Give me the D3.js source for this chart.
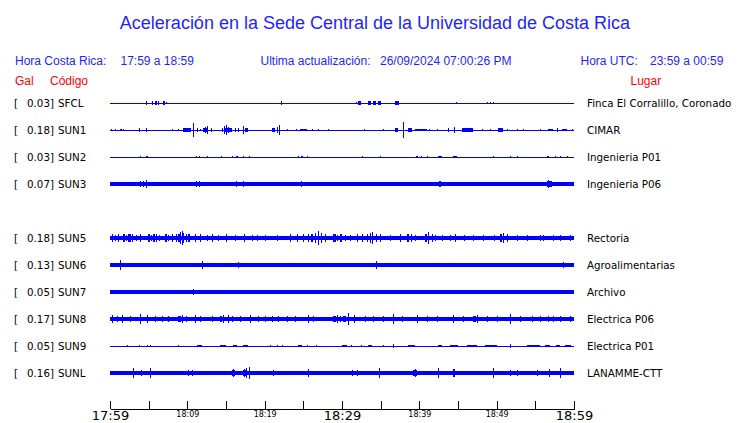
<!DOCTYPE html>
<html>
<head>
<meta charset="utf-8">
<script src="https://cdn.jsdelivr.net/npm/d3@7"></script>
<style>
  body { margin: 0; background: #fff; }
  svg { display: block; }
</style>
</head>
<body>
<div id="chart"></div>
<script>
var svgWidth = 740;
var svgHeight = 423;

// stations, top to bottom (SUN4 slot is empty)
var slots = ["SFCL", "SUN1", "SUN2", "SUN3", "SUN4", "SUN5", "SUN6", "SUN7", "SUN8", "SUN9", "SUNL"];
var codes = ["SFCL", "SUN1", "SUN2", "SUN3", "SUN5", "SUN6", "SUN7", "SUN8", "SUN9", "SUNL"];
var gal = ["0.03", "0.18", "0.03", "0.07", "0.18", "0.13", "0.05", "0.17", "0.05", "0.16"];
var places = ["Finca El Corralillo, Coronado", "CIMAR", "Ingenieria P01", "Ingenieria P06",
  "Rectoria", "Agroalimentarias", "Archivo", "Electrica P06", "Electrica P01", "LANAMME-CTT"];

// background noise level of each trace (relative amplitude)
var noise = [0, 0, 0, 0.15, 0.19, 0.15, 0.14, 0.17, 0, 0.17];

// bursts: [minute after 17:59, relative amplitude, duration in minutes]
var sfcl = [[4.7, 0.15], [5.4, 0.15], [5.8, 0.15, 0.3], [6.2, 0.15], [6.8, 0.15, 0.3], [7.3, 0.12],
  [22.1, 0.15], [31.8, 0.1], [32.1, 0.15, 0.3], [33.4, 0.15, 0.4], [34.0, 0.15, 0.4], [34.7, 0.15, 0.4],
  [36.9, 0.15, 0.5], [44.8, 0.12], [48.7, 0.1], [49.2, 0.12], [49.5, 0.1]];
var sun1 = [[0.13, 0.12], [0.69, 0.08], [1.29, 0.1, 0.3], [1.72, 0.12], [3.79, 0.15], [4.66, 0.15],
  [7.98, 0.08], [8.83, 0.08], [9.5, 0.14, 1.0], [10.77, 0.6], [11.21, 0.15], [11.64, 0.1],
  [12.03, 0.18, 0.52], [12.3, 0.25], [12.58, 0.3], [13.06, 0.15], [14.44, 0.15], [14.74, 0.17, 1.0],
  [14.8, 0.3], [15.0, 0.42], [15.3, 0.28], [16.16, 0.15], [16.59, 0.15], [17.16, 0.35],
  [17.46, 0.15, 0.43], [20.91, 0.15, 0.43], [21.56, 0.25], [21.89, 0.45], [22.85, 0.1], [24.05, 0.1],
  [24.57, 0.12, 0.87], [26.08, 0.1], [26.94, 0.1], [28.23, 0.1], [32.88, 0.05], [35.26, 0.08],
  [36.85, 0.15, 0.4], [37.93, 0.65], [38.53, 0.15, 0.48], [39.44, 0.12, 1.5], [41.29, 0.08],
  [42.25, 0.08], [43.74, 0.2], [44.48, 0.25], [45.48, 0.13, 1.5], [45.9, 0.2], [48.06, 0.1],
  [49.14, 0.1], [50.21, 0.14, 0.65], [51.3, 0.12], [52.59, 0.08], [53.37, 0.1], [55.6, 0.05],
  [56.64, 0.08, 0.65], [57.84, 0.15], [58.41, 0.1, 0.65], [59.7, 0.08]];
var sun2 = [[3.88, 0.12], [4.62, 0.12, 0.3], [11.08, 0.1], [11.51, 0.1], [12.5, 0.05], [14.39, 0.05],
  [15.81, 0.05], [16.29, 0.12, 0.3], [17.16, 0.1], [18.01, 0.1], [24.27, 0.05], [24.7, 0.12, 0.3],
  [25.44, 0.05], [32.55, 0.1], [34.91, 0.05], [39.57, 0.1, 0.3], [40.18, 0.08], [40.95, 0.05],
  [42.45, 0.1, 0.45], [44.31, 0.08, 0.5], [49.56, 0.05], [51.72, 0.08], [52.59, 0.05],
  [56.47, 0.1, 0.35], [57.54, 0.08], [58.19, 0.06], [59.06, 0.05]];
var sun3 = [[3.88, 0.25], [4.31, 0.25], [4.66, 0.32], [11.08, 0.22], [11.51, 0.22], [16.29, 0.25],
  [17.16, 0.22], [24.7, 0.25], [25.44, 0.2], [32.55, 0.2], [39.66, 0.2], [40.31, 0.2],
  [42.54, 0.22, 0.3], [42.6, 0.27], [48.71, 0.2], [49.78, 0.18], [51.72, 0.18], [52.59, 0.18],
  [56.55, 0.22, 0.55], [56.7, 0.32], [57.0, 0.26], [59.06, 0.18]];
var sun5 = [[0.22, 0.3, 0.2], [0.6, 0.28], [1.07, 0.3, 0.15], [1.72, 0.3, 0.2], [2.1, 0.28],
  [2.37, 0.3, 0.3], [2.9, 0.33], [3.3, 0.27], [3.88, 0.3], [4.96, 0.3, 0.15], [5.3, 0.27],
  [5.6, 0.3, 0.2], [5.9, 0.33], [6.3, 0.27], [7.11, 0.3, 0.2], [7.5, 0.28], [7.98, 0.3, 0.2],
  [8.5, 0.3], [8.83, 0.35, 0.3], [9.05, 0.48], [9.27, 0.62], [9.5, 0.42], [9.8, 0.32],
  [10.12, 0.3, 0.2], [10.99, 0.3], [11.64, 0.3], [12.5, 0.29], [13.15, 0.3], [14.01, 0.28],
  [15.0, 0.31], [16.16, 0.29], [17.33, 0.32], [18.3, 0.27], [18.97, 0.28], [20.04, 0.29],
  [21.56, 0.28], [23.28, 0.3], [24.14, 0.3, 0.2], [24.99, 0.31], [25.6, 0.3], [26.0, 0.3, 0.3],
  [26.5, 0.4], [26.94, 0.56], [27.3, 0.44], [27.8, 0.32], [28.88, 0.3, 0.3], [29.3, 0.28],
  [29.74, 0.3, 0.3], [30.4, 0.27], [31.03, 0.29], [31.9, 0.3, 0.2], [32.6, 0.3], [33.19, 0.33, 0.2],
  [33.6, 0.4], [33.84, 0.52], [34.4, 0.37], [34.9, 0.3], [36.2, 0.29], [37.5, 0.31], [38.36, 0.3, 0.3],
  [38.9, 0.34], [39.4, 0.29], [40.73, 0.31, 0.3], [41.16, 0.48], [41.6, 0.35], [42.02, 0.29],
  [42.89, 0.29], [43.97, 0.29], [44.61, 0.31], [45.8, 0.27], [46.98, 0.29], [48.28, 0.29],
  [49.7, 0.28], [50.43, 0.31, 0.3], [50.86, 0.4], [51.3, 0.3], [52.59, 0.29], [53.88, 0.29],
  [55.6, 0.28], [56.03, 0.29], [57.32, 0.28], [58.19, 0.29], [59.48, 0.28]];
var sun6 = [[0.39, 0.2, 1.3], [1.29, 0.45], [2.68, 0.2], [4.31, 0.18], [11.86, 0.37], [12.5, 0.2, 0.43],
  [16.59, 0.25], [25.95, 0.2], [31.25, 0.2], [34.36, 0.33], [47.42, 0.2], [56.25, 0.2], [58.54, 0.24]];
var sun7 = [[0.22, 0.2], [10.77, 0.22], [17.24, 0.18], [22.63, 0.2], [43.54, 0.18], [46.13, 0.17],
  [51.72, 0.17]];
var sun8 = [[0.22, 0.35], [0.87, 0.27], [1.51, 0.3], [2.59, 0.27], [3.88, 0.42], [4.75, 0.32],
  [5.82, 0.27], [6.69, 0.28], [7.54, 0.27], [8.83, 0.27, 0.3], [9.3, 0.32], [9.8, 0.27], [10.99, 0.32],
  [11.64, 0.28], [13.15, 0.27], [14.22, 0.27, 0.3], [14.6, 0.32], [15.3, 0.3], [15.8, 0.27],
  [16.81, 0.27], [18.1, 0.3], [19.18, 0.27], [20.04, 0.27], [20.91, 0.28], [21.76, 0.29],
  [22.85, 0.27], [23.92, 0.27], [25.64, 0.34], [26.29, 0.28], [28.88, 0.28, 0.3], [29.3, 0.34],
  [29.8, 0.28], [30.17, 0.28, 0.3], [30.81, 0.46], [31.5, 0.32], [32.97, 0.28], [34.05, 0.28],
  [35.34, 0.28], [36.63, 0.39], [37.72, 0.28], [39.66, 0.36], [40.95, 0.29], [42.25, 0.28],
  [44.39, 0.37], [45.68, 0.28], [46.98, 0.28, 0.3], [47.5, 0.31], [48.71, 0.28], [50.0, 0.27],
  [51.72, 0.44], [53.02, 0.28], [54.53, 0.29], [55.6, 0.28], [56.68, 0.27], [57.32, 0.28],
  [58.19, 0.27], [59.48, 0.28]];
var sun9 = [[2.24, 0.12], [3.79, 0.12], [4.75, 0.12], [5.17, 0.12], [8.83, 0.12], [11.21, 0.12, 0.65],
  [14.22, 0.12, 0.78], [15.94, 0.12, 0.44], [17.24, 0.12, 0.65], [20.69, 0.12], [21.56, 0.12],
  [22.2, 0.12], [24.35, 0.12, 0.44], [25.51, 0.12], [26.64, 0.12], [29.96, 0.12, 0.65], [31.16, 0.12],
  [32.46, 0.12], [33.36, 0.12, 0.48], [35.34, 0.12], [36.63, 0.15], [38.53, 0.12, 0.9],
  [42.41, 0.12, 0.48], [43.97, 0.12, 1.07], [46.13, 0.12, 1.3], [48.49, 0.12, 1.5], [51.72, 0.2],
  [53.88, 0.12, 1.7], [56.25, 0.12, 0.65], [57.67, 0.12, 0.5], [58.84, 0.12, 0.75]];
var sunl = [[3.01, 0.4], [3.97, 0.25], [5.17, 0.45], [10.12, 0.26], [10.64, 0.24], [15.74, 0.24, 0.43],
  [15.9, 0.3], [17.24, 0.24, 0.44], [17.3, 0.35], [17.6, 0.4], [18.01, 0.5], [21.12, 0.26], [25.64, 0.33],
  [31.25, 0.24], [31.9, 0.22], [34.82, 0.4], [39.18, 0.24, 0.48], [39.4, 0.3], [42.45, 0.45],
  [44.39, 0.35, 0.22], [49.56, 0.4], [51.72, 0.26], [52.59, 0.22], [55.18, 0.24], [56.8, 0.37],
  [58.19, 0.45]];
var bursts = [sfcl, sun1, sun2, sun3, sun5, sun6, sun7, sun8, sun9, sunl];

// time axis, one tick every 5 minutes
var tickMinutes = [0, 5, 10, 15, 20, 25, 30, 35, 40, 45, 50, 55, 60];
var tickLabels = ["17:59", "", "18:09", "", "18:19", "", "18:29", "", "18:39", "", "18:49", "", "18:59"];
var bigLabels = ["17:59", "18:29", "18:59"];

var blue = "#0000ff";
var red = "#ff0000";
var textBlue = "#1f1fff";

var svg = d3.select("#chart")
  .append("svg")
  .attr("width", svgWidth)
  .attr("height", svgHeight);

var x = d3.scaleLinear().domain([0, 60]).range([110, 574]);
var y = d3.scalePoint().domain(slots).range([103, 373]);
var amp = d3.scaleLinear().domain([0, 1]).range([0, 12]);

// header
svg.append("text")
  .attr("x", 375)
  .attr("y", 29)
  .attr("text-anchor", "middle")
  .attr("font-family", "Liberation Sans, Arial, sans-serif")
  .attr("font-size", 18)
  .attr("fill", textBlue)
  .text("Aceleración en la Sede Central de la Universidad de Costa Rica");

var header = [
  [15, "Hora Costa Rica:"], [120.5, "17:59 a 18:59"],
  [260.5, "Ultima actualización:"], [380, "26/09/2024 07:00:26 PM"],
  [580.5, "Hora UTC:"], [650, "23:59 a 00:59"]
];
svg.selectAll(".hdr")
  .data(header)
  .enter()
  .append("text")
  .attr("class", "hdr")
  .attr("x", d => d[0])
  .attr("y", 65)
  .attr("font-family", "Liberation Sans, Arial, sans-serif")
  .attr("font-size", 12)
  .attr("fill", textBlue)
  .text(d => d[1]);

var redHeader = [[15, "Gal"], [50, "Código"], [630.5, "Lugar"]];
svg.selectAll(".rhdr")
  .data(redHeader)
  .enter()
  .append("text")
  .attr("class", "rhdr")
  .attr("x", d => d[0])
  .attr("y", 85)
  .attr("font-family", "Liberation Sans, Arial, sans-serif")
  .attr("font-size", 12)
  .attr("fill", red)
  .text(d => d[1]);

// one group per station
var rows = svg.selectAll(".row")
  .data(codes)
  .enter()
  .append("g")
  .attr("class", "row")
  .attr("transform", d => `translate(0, ${y(d)})`);

rows.append("text")
  .attr("x", 14)
  .attr("y", 4)
  .attr("font-family", "DejaVu Sans, sans-serif")
  .attr("font-size", 10.3)
  .text("[");

rows.append("text")
  .attr("x", 54)
  .attr("y", 4)
  .attr("text-anchor", "end")
  .attr("font-family", "DejaVu Sans, sans-serif")
  .attr("font-size", 10.3)
  .text((d, i) => gal[i] + "]");

rows.append("text")
  .attr("x", 58)
  .attr("y", 4)
  .attr("font-family", "DejaVu Sans, sans-serif")
  .attr("font-size", 10.3)
  .text(d => d);

rows.append("text")
  .attr("x", 587)
  .attr("y", 4)
  .attr("font-family", "DejaVu Sans, sans-serif")
  .attr("font-size", 10.3)
  .text((d, i) => places[i]);

// base trace
rows.append("rect")
  .attr("x", x(0))
  .attr("width", x(60) - x(0))
  .attr("y", (d, i) => noise[i] > 0 ? -amp(noise[i]) : -0.5)
  .attr("height", (d, i) => noise[i] > 0 ? 2 * amp(noise[i]) : 1)
  .attr("fill", blue)
  .attr("shape-rendering", "crispEdges");

// bursts
rows.each(function(d, i) {
  d3.select(this).selectAll(".burst")
    .data(bursts[i])
    .enter()
    .append("rect")
    .attr("class", "burst")
    .attr("x", b => x(b[0]))
    .attr("width", b => Math.max(1, x(b[0] + (b[2] || 0)) - x(b[0])))
    .attr("y", b => -amp(b[1]))
    .attr("height", b => 2 * amp(b[1]))
    .attr("fill", blue)
    .attr("shape-rendering", "crispEdges");
});

// time axis
var bottomAxis = d3.axisBottom(x)
  .tickValues(tickMinutes)
  .tickSizeInner(-8)
  .tickSizeOuter(0)
  .tickFormat((d, i) => tickLabels[i]);

var xAxis = svg.append("g")
  .attr("transform", "translate(0, 409)")
  .call(bottomAxis);

xAxis.select(".domain").attr("stroke", "#000").attr("shape-rendering", "crispEdges");
xAxis.selectAll(".tick line").attr("stroke", "#000").attr("shape-rendering", "crispEdges");
xAxis.selectAll(".tick text")
  .attr("fill", "#000")
  .attr("font-family", "DejaVu Sans, sans-serif")
  .attr("dy", 0)
  .attr("y", (d, i) => bigLabels.indexOf(tickLabels[i]) >= 0 ? 11 : 8)
  .attr("font-size", (d, i) => bigLabels.indexOf(tickLabels[i]) >= 0 ? 13 : 8);
</script>
</body>
</html>
